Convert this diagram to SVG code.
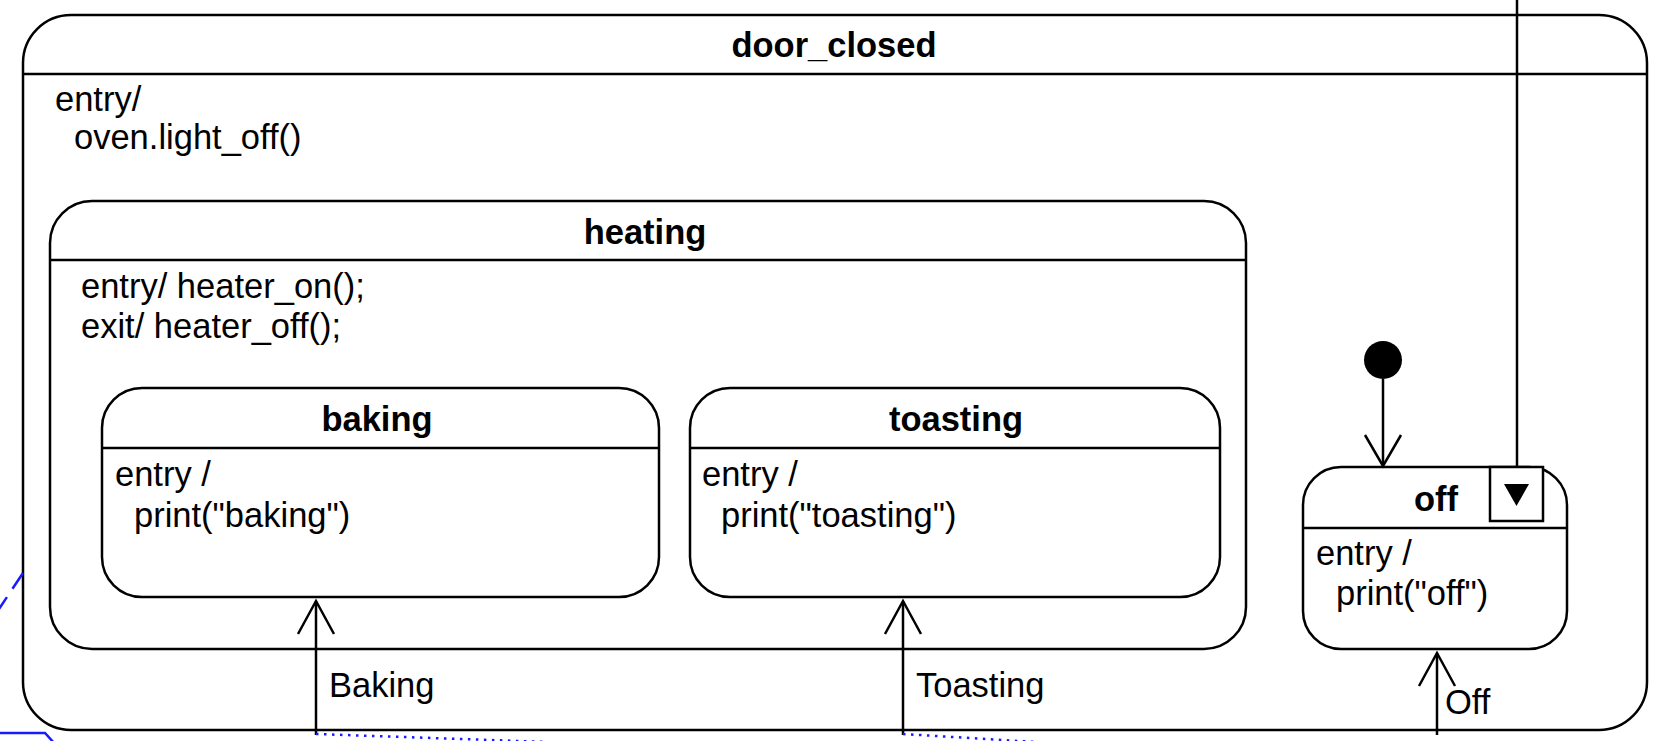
<svg xmlns="http://www.w3.org/2000/svg" width="1656" height="741" viewBox="0 0 1656 741">
<defs>
<style>
.st{fill:#fff;stroke:#000;stroke-width:2.5}
.sep{stroke:#000;stroke-width:2.5}
.t{font-family:"Liberation Sans",Arial,sans-serif;font-size:34.5px;fill:#000}
.b{font-weight:bold;text-anchor:middle}
.ln{stroke:#000;stroke-width:2.5;fill:none}
.blue{stroke:#1a1aff;stroke-width:2.5;fill:none}
</style>
</defs>
<rect width="1656" height="741" fill="#fff"/>
<g id="door_closed">
<rect class="st" x="23" y="15" width="1624" height="715" rx="48" ry="48"/>
<line class="sep" x1="23" y1="74" x2="1647" y2="74"/>
<text class="t b" x="834" y="57">door_closed</text>
<text class="t" x="55" y="111">entry/</text>
<text class="t" x="74" y="149">oven.light_off()</text>
</g>
<g id="heating">
<rect class="st" x="50" y="201" width="1196" height="448" rx="42" ry="42"/>
<line class="sep" x1="50" y1="260" x2="1246" y2="260"/>
<text class="t b" x="645" y="244">heating</text>
<text class="t" x="81" y="298">entry/ heater_on();</text>
<text class="t" x="81" y="338">exit/ heater_off();</text>
</g>
<g id="baking">
<rect class="st" x="102" y="388" width="557" height="209" rx="40" ry="40"/>
<line class="sep" x1="102" y1="448" x2="659" y2="448"/>
<text class="t b" x="377" y="431">baking</text>
<text class="t" x="115" y="486">entry /</text>
<text class="t" x="134" y="527">print("baking")</text>
</g>
<g id="toasting">
<rect class="st" x="690" y="388" width="530" height="209" rx="40" ry="40"/>
<line class="sep" x1="690" y1="448" x2="1220" y2="448"/>
<text class="t b" x="956" y="431">toasting</text>
<text class="t" x="702" y="486">entry /</text>
<text class="t" x="721" y="527">print("toasting")</text>
</g>
<g id="off">
<rect class="st" x="1303" y="467" width="264" height="182" rx="38" ry="38"/>
<line class="sep" x1="1303" y1="528" x2="1567" y2="528"/>
<text class="t b" x="1436" y="511">off</text>
<rect class="st" x="1490" y="467" width="53" height="54"/>
<polygon points="1504,484 1529,484 1516.5,506" fill="#000"/>
<text class="t" x="1316" y="565">entry /</text>
<text class="t" x="1336" y="605">print("off")</text>
</g>
<g id="initial">
<circle cx="1383" cy="360" r="19" fill="#000"/>
</g>
<g id="connectors">
<line class="ln" x1="1517" y1="0" x2="1517" y2="467"/>
<line class="ln" x1="1383" y1="379" x2="1383" y2="466"/>
<polyline class="ln" points="1365,435 1383,466 1401,435"/>
<line class="ln" x1="316" y1="735" x2="316" y2="601"/>
<polyline class="ln" points="298,634 316,601 334,634"/>
<text class="t" x="329" y="697">Baking</text>
<line class="ln" x1="903" y1="735" x2="903" y2="601"/>
<polyline class="ln" points="885,634 903,601 921,634"/>
<text class="t" x="916" y="697">Toasting</text>
<line class="ln" x1="1437" y1="735" x2="1437" y2="653"/>
<polyline class="ln" points="1419,686 1437,653 1455,686"/>
<text class="t" x="1445" y="714">Off</text>
<line class="blue" x1="316" y1="734" x2="548" y2="742" stroke-dasharray="2.5 5.5"/>
<line class="blue" x1="903" y1="734" x2="1036" y2="742" stroke-dasharray="2.5 5.5"/>
<line class="blue" x1="23" y1="573" x2="-1" y2="609" stroke-dasharray="19 10"/>
<polyline class="blue" points="0,733 45,733 55,744"/>
</g>
</svg>
